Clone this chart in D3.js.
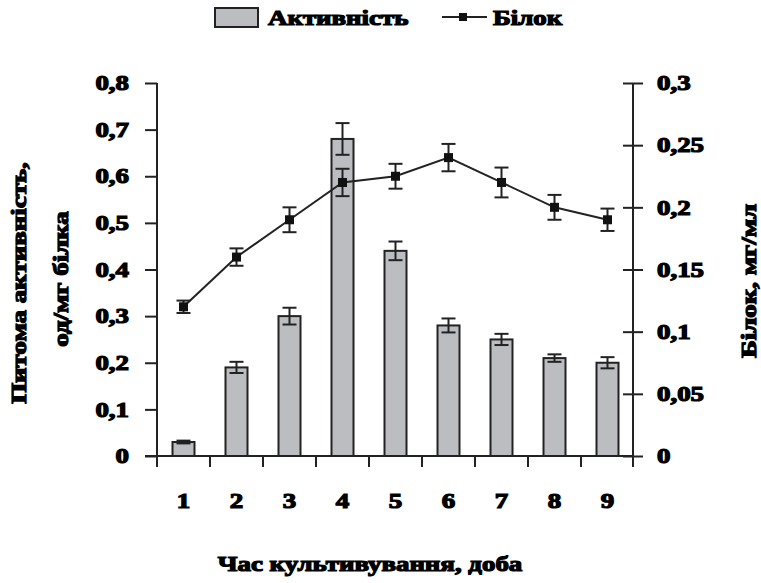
<!DOCTYPE html>
<html>
<head>
<meta charset="utf-8">
<script src="https://cdn.jsdelivr.net/npm/d3@7/dist/d3.min.js"></script>
<style>
  html, body { margin: 0; padding: 0; background: #fff; }
  svg text { font-family: "Liberation Serif", "Times New Roman", serif; font-weight: bold; fill: #000; stroke: #000; stroke-width: 1.2px; paint-order: stroke; }
</style>
</head>
<body>
<svg id="chart" width="761" height="583"></svg>
<script>
// Cultivation days
const days = [1, 2, 3, 4, 5, 6, 7, 8, 9];
// Specific activity, U/mg protein (bars) and its error
const activity    = [0.03, 0.19, 0.30, 0.68, 0.44, 0.28, 0.25, 0.21, 0.20];
const activityErr = [0.003, 0.012, 0.018, 0.034, 0.02, 0.015, 0.012, 0.008, 0.012];
// Protein, mg/ml (line) and its error
const protein    = [0.12, 0.16, 0.19, 0.22, 0.225, 0.24, 0.22, 0.20, 0.19];
const proteinErr = [0.005, 0.007, 0.01, 0.011, 0.01, 0.011, 0.012, 0.01, 0.009];
// Axis tick values
const leftTicks  = [0, 0.1, 0.2, 0.3, 0.4, 0.5, 0.6, 0.7, 0.8];
const rightTicks = [0, 0.05, 0.1, 0.15, 0.2, 0.25, 0.3];

const svg = d3.select("#chart");
const X0 = 157, X1 = 634, YTOP = 83, YBOT = 456;

const x = d3.scaleBand().domain(days).range([X0, X1]).paddingInner(0).paddingOuter(0);
const yL = d3.scaleLinear().domain([0, 0.8]).range([YBOT, YTOP]);
const yR = d3.scaleLinear().domain([0, 0.3]).range([YBOT, YTOP]);
const fmt = d => d === 0 ? "0" : String(d).replace(".", ",");
const cx = d => x(d) + x.bandwidth() / 2;

const ink = "#222";
const barFill = "#bcbdc1";

// Bars
const barW = 22;
svg.append("g").selectAll("rect").data(days).join("rect")
  .attr("x", d => cx(d) - barW / 2)
  .attr("y", (d, i) => yL(activity[i]))
  .attr("width", barW)
  .attr("height", (d, i) => yL(0) - yL(activity[i]))
  .attr("fill", barFill).attr("stroke", ink).attr("stroke-width", 2);

// Error bars: vertical whisker with caps at value ± error
function errBars(g, vals, errs, scale, cap) {
  const e = g.selectAll("g").data(days).join("g");
  e.append("line").attr("x1", cx).attr("x2", cx)
    .attr("y1", (d, i) => scale(vals[i] + errs[i])).attr("y2", (d, i) => scale(vals[i] - errs[i]));
  e.append("line").attr("x1", d => cx(d) - cap).attr("x2", d => cx(d) + cap)
    .attr("y1", (d, i) => scale(vals[i] + errs[i])).attr("y2", (d, i) => scale(vals[i] + errs[i]));
  e.append("line").attr("x1", d => cx(d) - cap).attr("x2", d => cx(d) + cap)
    .attr("y1", (d, i) => scale(vals[i] - errs[i])).attr("y2", (d, i) => scale(vals[i] - errs[i]));
  g.selectAll("line").attr("stroke", ink).attr("stroke-width", 2);
}
errBars(svg.append("g"), activity, activityErr, yL, 7);

// Protein line with square markers
const line = d3.line().x((d, i) => cx(days[i])).y(d => yR(d));
svg.append("path").datum(protein).attr("d", line)
  .attr("fill", "none").attr("stroke", ink).attr("stroke-width", 2);
errBars(svg.append("g"), protein, proteinErr, yR, 7);
svg.append("g").selectAll("rect").data(days).join("rect")
  .attr("x", d => cx(d) - 4.5)
  .attr("y", (d, i) => yR(protein[i]) - 4.5)
  .attr("width", 9).attr("height", 9).attr("fill", "#111");

// Left axis
const gl = svg.append("g").attr("transform", `translate(${X0},0)`)
  .call(d3.axisLeft(yL).tickValues(leftTicks).tickFormat(fmt).tickSize(12).tickSizeOuter(0).tickPadding(16));
gl.select(".domain").remove();
gl.append("line").attr("y1", YTOP).attr("y2", YBOT + 11).attr("stroke", ink).attr("stroke-width", 2);

// Right axis (ticks cross the axis line)
const gr = svg.append("g").attr("transform", `translate(${X1 - 1},0)`)
  .call(d3.axisRight(yR).tickValues(rightTicks).tickFormat(fmt).tickSize(10).tickSizeOuter(0).tickPadding(14));
gr.select(".domain").remove();
gr.selectAll(".tick line").attr("x1", -10);
gr.append("line").attr("y1", YTOP).attr("y2", YBOT + 11).attr("stroke", ink).attr("stroke-width", 2);

// Bottom axis: ticks at category boundaries, labels at centres
const gb = svg.append("g").attr("transform", `translate(0,${YBOT})`)
  .call(d3.axisBottom(x).tickSize(0).tickPadding(52).tickSizeOuter(0));
gb.select(".domain").remove();
gb.append("line").attr("x1", X0 - 12).attr("x2", X1).attr("stroke", ink).attr("stroke-width", 2);
gb.selectAll("line.bound").data(days.concat([null])).join("line").attr("class", "bound")
  .attr("x1", (d, i) => i < days.length ? x(d) : X1 - 1)
  .attr("x2", (d, i) => i < days.length ? x(d) : X1 - 1)
  .attr("y1", 0).attr("y2", 11).attr("stroke", ink).attr("stroke-width", 2);

svg.selectAll(".tick line").attr("stroke", ink).attr("stroke-width", 2);
svg.selectAll(".tick text").style("font-size", "21px");
gb.selectAll(".tick text").attr("dy", "0");

// Axis titles
svg.append("text").attr("transform", "translate(370,571)").attr("text-anchor", "middle")
  .style("font-size", "21px").text("Час культивування, доба");
svg.append("text").attr("transform", "translate(26,283) rotate(-90)").attr("text-anchor", "middle")
  .style("font-size", "21px").text("Питома активність,");
svg.append("text").attr("transform", "translate(68,279) rotate(-90)").attr("text-anchor", "middle")
  .style("font-size", "21px").text("од/мг білка");
svg.append("text").attr("transform", "translate(756,281) rotate(-90)").attr("text-anchor", "middle")
  .style("font-size", "21px").text("Білок, мг/мл");

// Legend
const lg = svg.append("g");
lg.append("rect").attr("x", 215).attr("y", 8).attr("width", 43).attr("height", 19)
  .attr("fill", barFill).attr("stroke", ink).attr("stroke-width", 2);
lg.append("text").attr("x", 268).attr("y", 25).style("font-size", "21px").text("Активність");
lg.append("line").attr("x1", 442).attr("x2", 487).attr("y1", 17).attr("y2", 17)
  .attr("stroke", ink).attr("stroke-width", 2);
lg.append("rect").attr("x", 459).attr("y", 13).attr("width", 8).attr("height", 8).attr("fill", "#111");
lg.append("text").attr("x", 493).attr("y", 25).style("font-size", "21px").text("Білок");

// The lettering is set wide: stretch every label horizontally
svg.selectAll("text").each(function () {
  const w = this.getComputedTextLength();
  d3.select(this).attr("textLength", w * 1.28).attr("lengthAdjust", "spacingAndGlyphs");
});
</script>
</body>
</html>
